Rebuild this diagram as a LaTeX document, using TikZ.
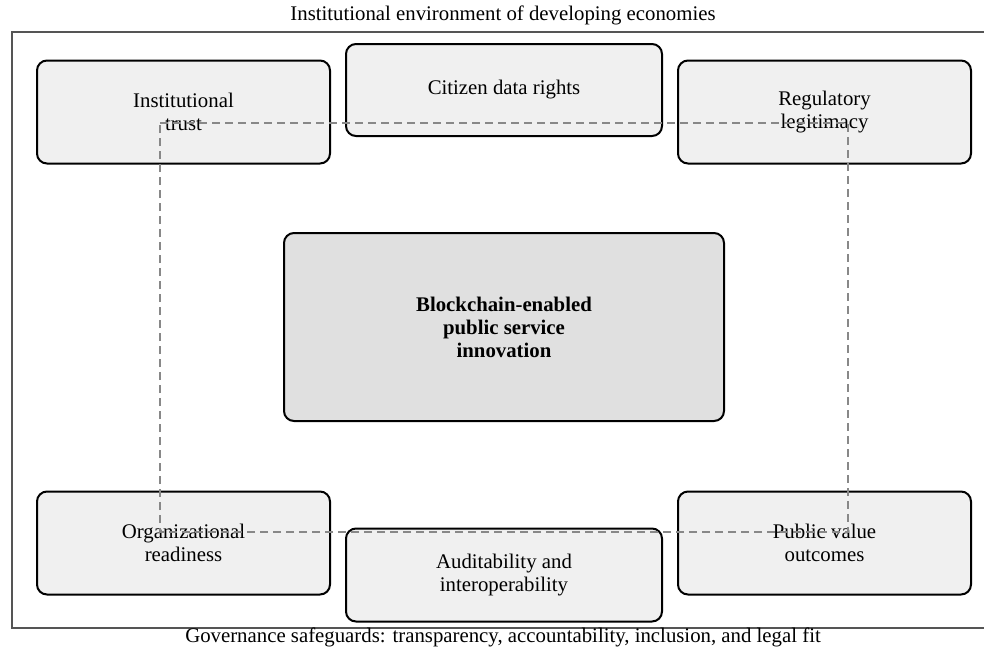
\documentclass[tikz,border=0pt]{standalone}
\usepackage{fontspec}
\setmainfont{Liberation Serif}
\begin{document}
\begin{tikzpicture}[x=1pt,y=-1pt,
  box/.style={draw=black,line width=2pt,rounded corners=10pt,fill=boxfill,align=center,
    font=\fontsize{20.8}{23}\selectfont,inner sep=0pt},
  corebox/.style={box,fill=corefill,font=\fontsize{20.8}{23}\selectfont\bfseries},
  lbl/.style={font=\fontsize{20.8}{23}\selectfont,inner sep=0pt},
  loop/.style={draw=dashgray,dashed,dash pattern=on 8pt off 5pt,line width=1.6pt}]
\definecolor{boxfill}{HTML}{F0F0F0}
\definecolor{corefill}{HTML}{E0E0E0}
\definecolor{framegray}{HTML}{555555}
\definecolor{dashgray}{HTML}{888888}
\useasboundingbox (0,0) rectangle (984,646);
\fill[white] (0,0) rectangle (984,646);
% frame
\draw[framegray,line width=1.8pt] (12,32) rectangle (995,628);
\node[lbl] (toplbl) at (503,15) {Institutional environment of developing economies};
% boxes
\node[box,minimum width=293pt,minimum height=103pt] (trust) at (183.5,112) {Institutional\\trust};
\node[box,minimum width=316pt,minimum height=92pt] (rights) at (504,90) {Citizen data rights};
\node[box,minimum width=293pt,minimum height=103pt] (legit) at (824.5,112) {Regulatory\\legitimacy};
\node[corebox,minimum width=440pt,minimum height=188pt] (core) at (504,327) {Blockchain-enabled\\public service\\innovation};
\node[box,minimum width=293pt,minimum height=103pt] (orgready) at (183.5,543) {Organizational\\readiness};
\node[box,minimum width=316pt,minimum height=93pt] (audit) at (504,575) {Auditability and\\interoperability};
\node[box,minimum width=293pt,minimum height=103pt] (pubval) at (824.5,543) {Public value\\outcomes};
% dashed loop
\coordinate (c1) at (160,123);
\coordinate (c2) at (848,123);
\coordinate (c3) at (848,532);
\coordinate (c4) at (160,532);
\draw[loop] (c1) -- (c2) -- (c3) -- (c4) -- cycle;
\node[lbl] (botlbl) at (503,637) {Governance safeguards: transparency, accountability, inclusion, and legal fit};
\end{tikzpicture}
\end{document}
